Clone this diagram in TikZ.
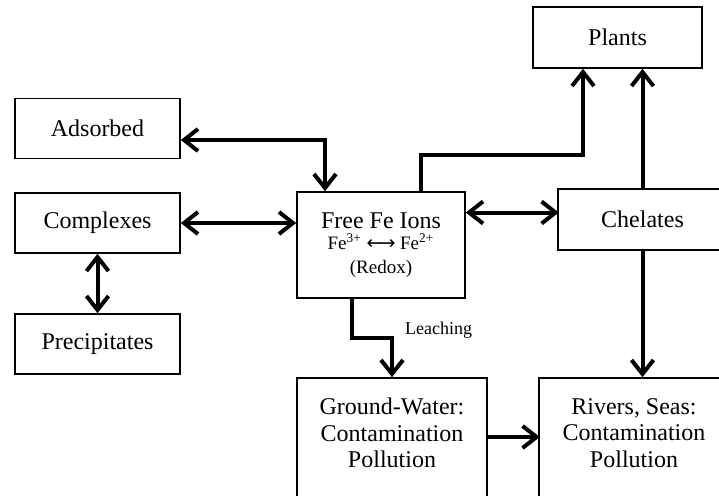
\documentclass[tikz,border=0pt]{standalone}
\usepackage{fontspec}
\setmainfont{Liberation Serif}
\newfontfamily\arrowfont{DejaVu Sans}
\usetikzlibrary{arrows.meta, positioning, calc}

\tikzset{
  box/.style={draw, line width=0.8pt, align=center, inner sep=2pt,
    font=\fontsize{12}{13.25}\selectfont},
  link/.style={line width=2pt, line cap=butt}
}

\begin{document}
\begin{tikzpicture}[x=0.5pt, y=-0.5pt, >={Straight Barb[length=7pt,width=11pt]}]
    \clip (0,0) rectangle (719,495);

    % Boxes on the left
    \node[box, minimum width=82.5pt, minimum height=30pt] (ads) at (97.5,128.5) {Adsorbed};
    \node[box, minimum width=82.5pt, minimum height=30pt] (cpx) at (97.5,223) {Complexes};
    \node[box, minimum width=82.5pt, minimum height=30pt] (prec) at (97.5,344) {Precipitates};

    % Centre box
    \node[box, minimum width=84pt, minimum height=53pt] (free) at (381,245)
      {Free Fe Ions\\[-2.5pt]
       {\fontsize{9.5}{11}\selectfont Fe\textsuperscript{3+} {\arrowfont ←\kern-1.5pt→} Fe\textsuperscript{2+}}\\[-1.5pt]
       {\fontsize{9.5}{11}\selectfont (Redox)}};

    % Boxes on the right
    \node[box, minimum width=84.5pt, minimum height=30.5pt] (plants) at (617.5,37.5) {Plants};
    \node[box, minimum width=84.5pt, minimum height=30.5pt] (chel) at (642.5,219.5) {Chelates};

    % Boxes at the bottom
    \node[box, minimum width=95pt, minimum height=61pt] (gw) at (392,439)
      {Ground-Water:\\Contamination\\Pollution\\[-7pt]\mbox{}};
    \node[box, minimum width=95pt, minimum height=61pt] (riv) at (634,439)
      {Rivers, Seas:\\Contamination\\Pollution\\[-7pt]\mbox{}};

    % Bends
    \coordinate (bendA) at (325,140);
    \coordinate (bendP) at (583,155);
    \coordinate (bendL) at (392,338);

    % Arrows
    \draw[<->, link] (ads.east |- bendA) -- (bendA) -- (bendA |- free.north);
    \draw[<->, link] (cpx.east) -- (cpx.east -| free.west);
    \draw[<->, link] (cpx.south) -- (prec.north);
    \draw[<->, link] (free.east |- chel.west) ++(0,-7) -- ++(93,0);
    \draw[->, link] (free.north) ++(40,0) |- (bendP) -- (bendP |- plants.south);
    \draw[->, link] (chel.north) -- (chel.north |- plants.south);
    \draw[->, link] (chel.south) -- (chel.south |- riv.north);
    \draw[->, link] (free.south) ++(-29,0) |- (bendL) -- (gw.north);
    \draw[->, link] (gw.east) ++(0,-2) -- ++(52,0);

    % Label
    \node[font=\fontsize{9}{10}\selectfont, right=3pt of bendL, yshift=4pt] (leach) {Leaching};
\end{tikzpicture}
\end{document}
